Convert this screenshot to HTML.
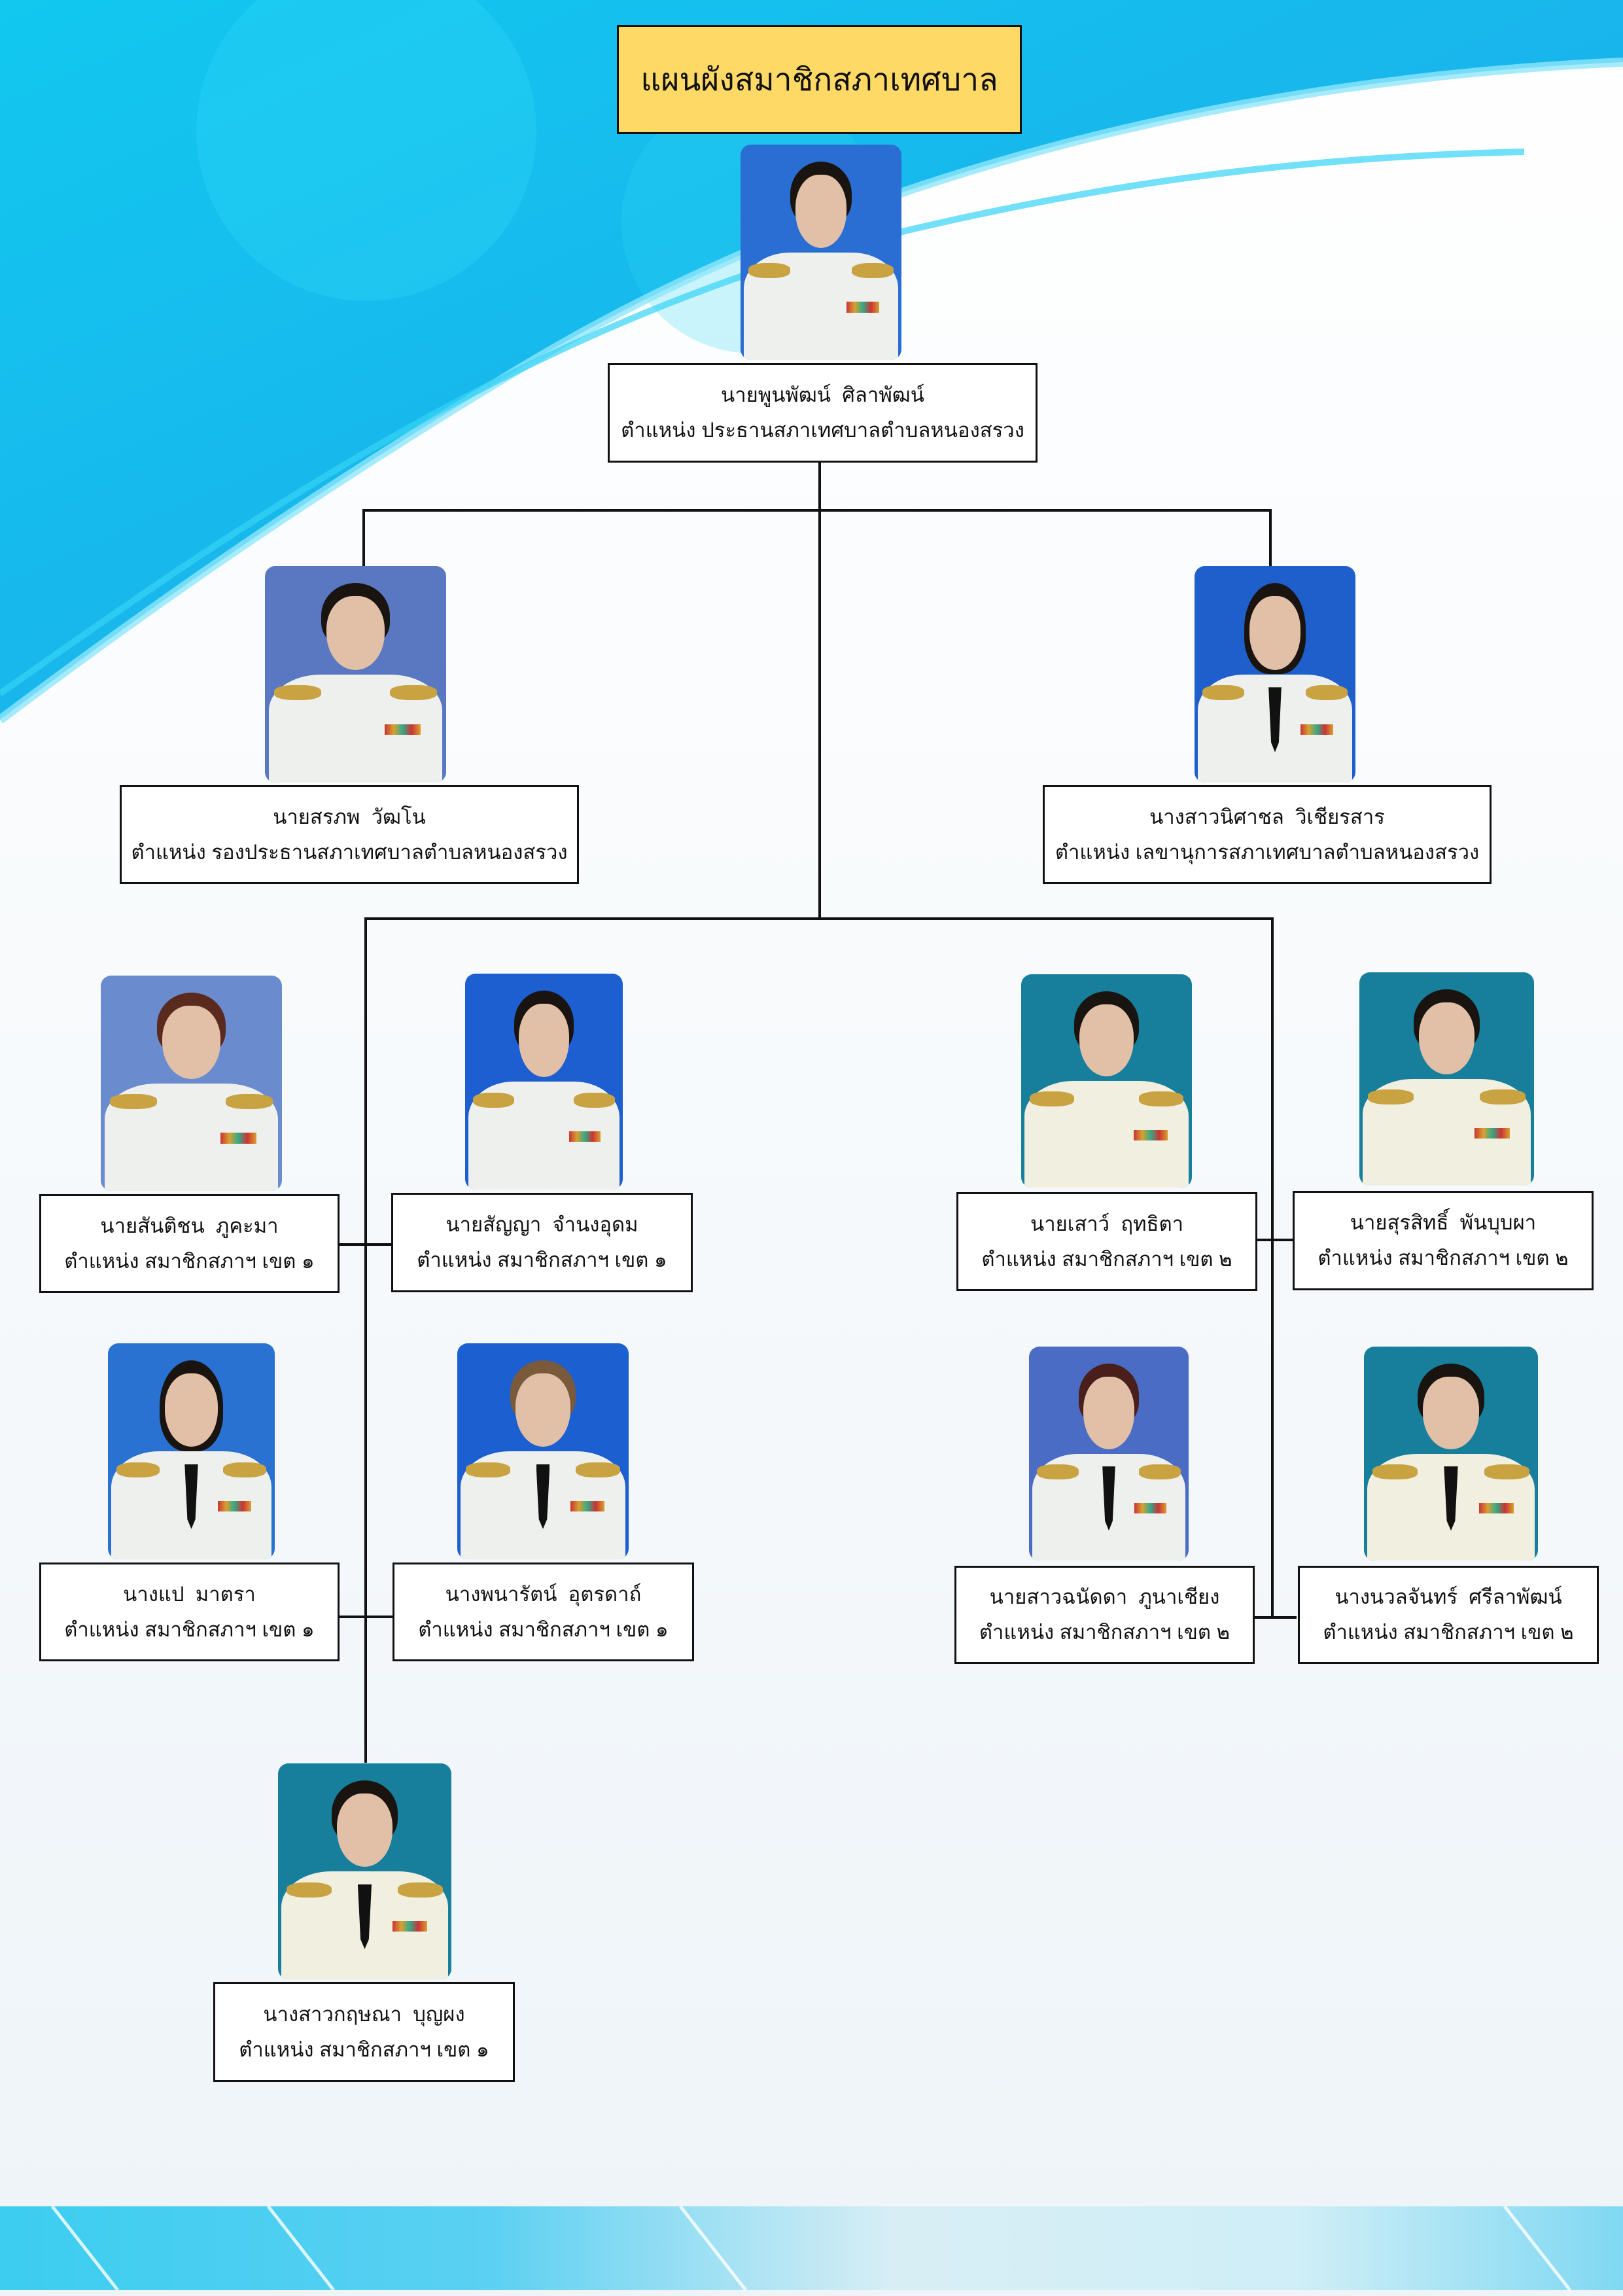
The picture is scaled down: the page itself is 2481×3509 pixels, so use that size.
<!DOCTYPE html>
<html><head><meta charset="utf-8">
<style>
*{margin:0;padding:0;box-sizing:border-box}
body{width:2481px;height:3509px;position:relative;overflow:hidden;background:#fff;font-family:"Liberation Sans","Noto Sans CJK SC",sans-serif;}
.abs{position:absolute}
.box{position:absolute;background:#fff;border:3px solid #111;display:flex;flex-direction:column;justify-content:center;align-items:center;font-size:31px;line-height:54px;color:#111;text-align:center;white-space:nowrap}
.h{position:absolute;height:4px;background:#111}
.v{position:absolute;width:4px;background:#111}
.ph{position:absolute;border-radius:16px;overflow:hidden}
.ph .hair{position:absolute;left:31%;top:8%;width:38%;height:30%;border-radius:50% 50% 40% 40%;background:#1a1410}
.ph .face{position:absolute;left:34%;top:14%;width:32%;height:34%;border-radius:45% 45% 50% 50%;background:#e2c0a8}
.ph .body{position:absolute;left:2%;top:50%;width:96%;height:55%;border-radius:30% 30% 0 0;background:#eef0ee}
.ph .ep1,.ph .ep2{position:absolute;top:55%;width:26%;height:7%;background:#c9a341;border-radius:40%}
.ph .ep1{left:5%}.ph .ep2{right:5%}
.ph .tie{position:absolute;left:46%;top:56%;width:8%;height:30%;background:#111;clip-path:polygon(0 0,100% 0,80% 85%,50% 100%,20% 85%)}
.ph .med{position:absolute;left:66%;top:73%;width:20%;height:5%;background:linear-gradient(90deg,#c33,#d9a030,#3a8,#c33,#d9a030)}
</style></head><body>
<svg class="abs" style="left:0;top:0" width="2481" height="3509">
<defs>
<linearGradient id="bg" x1="0" y1="0" x2="1" y2="1">
<stop offset="0" stop-color="#12c8ef"/><stop offset="0.5" stop-color="#18b6ec"/><stop offset="1" stop-color="#1aa6e8"/></linearGradient>
<linearGradient id="bot" x1="0" y1="0" x2="1" y2="0">
<stop offset="0" stop-color="#3ccdf0"/><stop offset="0.3" stop-color="#5ad0f2"/><stop offset="0.55" stop-color="#d8eef5"/><stop offset="0.8" stop-color="#cfeef7"/><stop offset="1" stop-color="#7fd8f2"/></linearGradient>
<linearGradient id="fade" x1="0" y1="0" x2="0" y2="1">
<stop offset="0" stop-color="#fff"/><stop offset="1" stop-color="#eef4f8"/></linearGradient>
</defs>
<rect x="0" y="0" width="2481" height="3509" fill="url(#fade)"/>
<path d="M0,0 H2481 V95 C1900,120 1300,260 800,560 C450,770 200,950 0,1100 Z" fill="url(#bg)"/>
<circle cx="560" cy="200" r="260" fill="#2fd6f5" opacity="0.35"/>
<circle cx="1150" cy="340" r="200" fill="#2fd6f5" opacity="0.25"/>
<path d="M0,1100 C200,950 450,770 800,560 C1300,260 1900,120 2481,95" fill="none" stroke="#8fe6fa" stroke-width="14" opacity="0.8"/>
<path d="M0,1060 C300,850 700,560 1200,400 C1600,290 1950,240 2330,232" fill="none" stroke="#35d3f5" stroke-width="10" opacity="0.7"/>
<rect x="0" y="3372" width="2481" height="128" fill="url(#bot)"/>
<path d="M80,3372 L180,3500 M410,3372 L510,3500 M1040,3372 L1140,3500 M2300,3372 L2400,3500" stroke="#fff" stroke-width="5" opacity="0.8"/>
</svg>

<div class="abs" style="left:943px;top:38px;width:619px;height:167px;background:#fed966;border:3px solid #111;display:flex;align-items:center;justify-content:center;font-size:48px;color:#111">แผนผังสมาชิกสภาเทศบาล</div>

<div class="v" style="left:1251px;top:705px;height:701px"></div>
<div class="h" style="left:554px;top:778px;width:1390px"></div>
<div class="v" style="left:554px;top:778px;height:88px"></div>
<div class="v" style="left:1940px;top:778px;height:88px"></div>
<div class="h" style="left:557px;top:1402px;width:1390px"></div>
<div class="v" style="left:557px;top:1402px;height:1292px"></div>
<div class="v" style="left:1943px;top:1402px;height:1072px"></div>
<div class="h" style="left:519px;top:1900px;width:80px"></div>
<div class="h" style="left:519px;top:2469px;width:81px"></div>
<div class="h" style="left:1920px;top:1893px;width:56px"></div>
<div class="h" style="left:1915px;top:2470px;width:67px"></div>

<div class="ph" style="left:1132px;top:221px;width:246px;height:329px;background:#2a6ed4"><div class="body"></div><div class="ep1"></div><div class="ep2"></div><div class="med"></div><div class="hair"></div><div class="face"></div></div>
<div class="ph" style="left:405px;top:865px;width:277px;height:331px;background:#5a78c2"><div class="body"></div><div class="ep1"></div><div class="ep2"></div><div class="med"></div><div class="hair"></div><div class="face"></div></div>
<div class="ph" style="left:1826px;top:865px;width:246px;height:331px;background:#1e5fcc"><div class="body"></div><div class="ep1"></div><div class="ep2"></div><div class="tie"></div><div class="med"></div><div class="hair" style="height:42%"></div><div class="face"></div></div>
<div class="ph" style="left:154px;top:1491px;width:277px;height:329px;background:#6a8cce"><div class="body"></div><div class="ep1"></div><div class="ep2"></div><div class="med"></div><div class="hair" style="background:#5a2a1e"></div><div class="face"></div></div>
<div class="ph" style="left:711px;top:1488px;width:241px;height:330px;background:#1d5ed0"><div class="body"></div><div class="ep1"></div><div class="ep2"></div><div class="med"></div><div class="hair"></div><div class="face"></div></div>
<div class="ph" style="left:165px;top:2053px;width:255px;height:330px;background:#2a72d2"><div class="body"></div><div class="ep1"></div><div class="ep2"></div><div class="tie"></div><div class="med"></div><div class="hair" style="height:42%"></div><div class="face"></div></div>
<div class="ph" style="left:699px;top:2053px;width:262px;height:330px;background:#1c5fd0"><div class="body"></div><div class="ep1"></div><div class="ep2"></div><div class="tie"></div><div class="med"></div><div class="hair" style="background:#7a5a3a"></div><div class="face"></div></div>
<div class="ph" style="left:425px;top:2695px;width:265px;height:330px;background:#177f9c"><div class="body" style="background:#f0efe0"></div><div class="ep1"></div><div class="ep2"></div><div class="tie"></div><div class="med"></div><div class="hair"></div><div class="face"></div></div>
<div class="ph" style="left:1561px;top:1489px;width:261px;height:326px;background:#177f9c"><div class="body" style="background:#f0efe0"></div><div class="ep1"></div><div class="ep2"></div><div class="med"></div><div class="hair"></div><div class="face"></div></div>
<div class="ph" style="left:2078px;top:1486px;width:267px;height:326px;background:#177f9c"><div class="body" style="background:#f0efe0"></div><div class="ep1"></div><div class="ep2"></div><div class="med"></div><div class="hair"></div><div class="face"></div></div>
<div class="ph" style="left:1573px;top:2058px;width:244px;height:327px;background:#4a6cc4"><div class="body"></div><div class="ep1"></div><div class="ep2"></div><div class="tie"></div><div class="med"></div><div class="hair" style="background:#4a1e1a"></div><div class="face"></div></div>
<div class="ph" style="left:2085px;top:2058px;width:266px;height:327px;background:#177f9c"><div class="body" style="background:#f0efe0"></div><div class="ep1"></div><div class="ep2"></div><div class="tie"></div><div class="med"></div><div class="hair"></div><div class="face"></div></div>

<div class="box" style="left:929px;top:555px;width:657px;height:152px"><div>นายพูนพัฒน์&nbsp; ศิลาพัฒน์</div><div>ตำแหน่ง ประธานสภาเทศบาลตำบลหนองสรวง</div></div>
<div class="box" style="left:183px;top:1200px;width:702px;height:151px"><div>นายสรภพ&nbsp; วัฒโน</div><div>ตำแหน่ง รองประธานสภาเทศบาลตำบลหนองสรวง</div></div>
<div class="box" style="left:1594px;top:1200px;width:686px;height:151px"><div>นางสาวนิศาชล&nbsp; วิเชียรสาร</div><div>ตำแหน่ง เลขานุการสภาเทศบาลตำบลหนองสรวง</div></div>

<div class="box" style="left:60px;top:1825px;width:459px;height:151px"><div>นายสันติชน&nbsp; ภูคะมา</div><div>ตำแหน่ง สมาชิกสภาฯ เขต ๑</div></div>
<div class="box" style="left:598px;top:1823px;width:461px;height:152px"><div>นายสัญญา&nbsp; จำนงอุดม</div><div>ตำแหน่ง สมาชิกสภาฯ เขต ๑</div></div>
<div class="box" style="left:60px;top:2388px;width:459px;height:151px"><div>นางแป&nbsp; มาตรา</div><div>ตำแหน่ง สมาชิกสภาฯ เขต ๑</div></div>
<div class="box" style="left:600px;top:2388px;width:461px;height:151px"><div>นางพนารัตน์&nbsp; อุตรดาถ์</div><div>ตำแหน่ง สมาชิกสภาฯ เขต ๑</div></div>
<div class="box" style="left:326px;top:3029px;width:461px;height:153px"><div>นางสาวกฤษณา&nbsp; บุญผง</div><div>ตำแหน่ง สมาชิกสภาฯ เขต ๑</div></div>

<div class="box" style="left:1462px;top:1822px;width:460px;height:151px"><div>นายเสาว์&nbsp; ฤทธิตา</div><div>ตำแหน่ง สมาชิกสภาฯ เขต ๒</div></div>
<div class="box" style="left:1976px;top:1820px;width:460px;height:152px"><div>นายสุรสิทธิ์&nbsp; พันบุบผา</div><div>ตำแหน่ง สมาชิกสภาฯ เขต ๒</div></div>
<div class="box" style="left:1459px;top:2393px;width:459px;height:150px"><div>นายสาวฉนัดดา&nbsp; ภูนาเชียง</div><div>ตำแหน่ง สมาชิกสภาฯ เขต ๒</div></div>
<div class="box" style="left:1984px;top:2393px;width:460px;height:150px"><div>นางนวลจันทร์&nbsp; ศรีลาพัฒน์</div><div>ตำแหน่ง สมาชิกสภาฯ เขต ๒</div></div>
</body></html>
